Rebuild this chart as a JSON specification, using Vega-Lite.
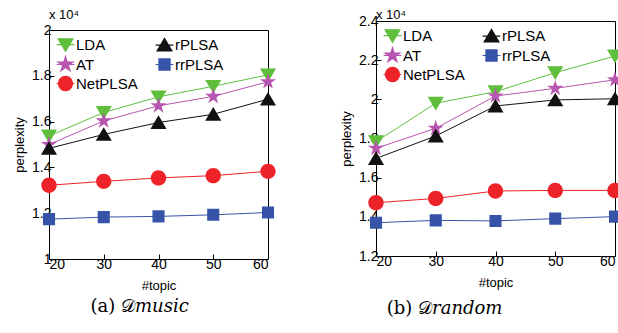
{
  "$schema": "https://vega.github.io/schema/vega-lite/v6.json",
  "padding": {"left": 13, "top": 8, "right": 0, "bottom": 0},
  "spacing": 61,
  "resolve": {"scale": {"color": "independent", "fill": "independent", "stroke": "independent", "shape": "independent"}, "legend": {"fill": "independent", "stroke": "independent", "shape": "independent"}},
  "data": {"values": [
    {"panel": "music", "method": "LDA", "topic": 20, "value": 15370},
    {"panel": "music", "method": "LDA", "topic": 30, "value": 16400},
    {"panel": "music", "method": "LDA", "topic": 40, "value": 17080},
    {"panel": "music", "method": "LDA", "topic": 50, "value": 17540},
    {"panel": "music", "method": "LDA", "topic": 60, "value": 18040},
    {"panel": "music", "method": "AT", "topic": 20, "value": 15000},
    {"panel": "music", "method": "AT", "topic": 30, "value": 16030},
    {"panel": "music", "method": "AT", "topic": 40, "value": 16690},
    {"panel": "music", "method": "AT", "topic": 50, "value": 17100},
    {"panel": "music", "method": "AT", "topic": 60, "value": 17740},
    {"panel": "music", "method": "NetPLSA", "topic": 20, "value": 13220},
    {"panel": "music", "method": "NetPLSA", "topic": 30, "value": 13390},
    {"panel": "music", "method": "NetPLSA", "topic": 40, "value": 13540},
    {"panel": "music", "method": "NetPLSA", "topic": 50, "value": 13640},
    {"panel": "music", "method": "NetPLSA", "topic": 60, "value": 13830},
    {"panel": "music", "method": "rPLSA", "topic": 20, "value": 14830},
    {"panel": "music", "method": "rPLSA", "topic": 30, "value": 15440},
    {"panel": "music", "method": "rPLSA", "topic": 40, "value": 15960},
    {"panel": "music", "method": "rPLSA", "topic": 50, "value": 16320},
    {"panel": "music", "method": "rPLSA", "topic": 60, "value": 16980},
    {"panel": "music", "method": "rrPLSA", "topic": 20, "value": 11740},
    {"panel": "music", "method": "rrPLSA", "topic": 30, "value": 11830},
    {"panel": "music", "method": "rrPLSA", "topic": 40, "value": 11860},
    {"panel": "music", "method": "rrPLSA", "topic": 50, "value": 11930},
    {"panel": "music", "method": "rrPLSA", "topic": 60, "value": 12030},
    {"panel": "random", "method": "LDA", "topic": 20, "value": 17840},
    {"panel": "random", "method": "LDA", "topic": 30, "value": 19800},
    {"panel": "random", "method": "LDA", "topic": 40, "value": 20390},
    {"panel": "random", "method": "LDA", "topic": 50, "value": 21360},
    {"panel": "random", "method": "LDA", "topic": 60, "value": 22210},
    {"panel": "random", "method": "AT", "topic": 20, "value": 17500},
    {"panel": "random", "method": "AT", "topic": 30, "value": 18520},
    {"panel": "random", "method": "AT", "topic": 40, "value": 20170},
    {"panel": "random", "method": "AT", "topic": 50, "value": 20560},
    {"panel": "random", "method": "AT", "topic": 60, "value": 21000},
    {"panel": "random", "method": "NetPLSA", "topic": 20, "value": 14720},
    {"panel": "random", "method": "NetPLSA", "topic": 30, "value": 14940},
    {"panel": "random", "method": "NetPLSA", "topic": 40, "value": 15320},
    {"panel": "random", "method": "NetPLSA", "topic": 50, "value": 15350},
    {"panel": "random", "method": "NetPLSA", "topic": 60, "value": 15350},
    {"panel": "random", "method": "rPLSA", "topic": 20, "value": 16980},
    {"panel": "random", "method": "rPLSA", "topic": 30, "value": 18130},
    {"panel": "random", "method": "rPLSA", "topic": 40, "value": 19660},
    {"panel": "random", "method": "rPLSA", "topic": 50, "value": 19970},
    {"panel": "random", "method": "rPLSA", "topic": 60, "value": 20030},
    {"panel": "random", "method": "rrPLSA", "topic": 20, "value": 13700},
    {"panel": "random", "method": "rrPLSA", "topic": 30, "value": 13820},
    {"panel": "random", "method": "rrPLSA", "topic": 40, "value": 13790},
    {"panel": "random", "method": "rrPLSA", "topic": 50, "value": 13910},
    {"panel": "random", "method": "rrPLSA", "topic": 60, "value": 14010}
  ]},
  "hconcat": [
    {
      "title": {"text": "(a) 𝒟𝑚𝑢𝑠𝑖𝑐", "orient": "bottom", "anchor": "middle", "font": "DejaVu Serif", "fontSize": 18, "fontWeight": "normal", "offset": 5, "dx": -6},
      "spacing": 0,
      "resolve": {"scale": {"color": "independent", "fill": "independent", "stroke": "independent", "shape": "independent"}, "legend": {"fill": "independent", "stroke": "independent", "shape": "independent"}},
      "vconcat": [
        {
          "data": {"values": []},
          "title": {"text": "x 10⁴", "anchor": "start", "frame": "group", "fontSize": 13, "fontWeight": "normal", "offset": -1},
          "width": 219,
          "height": 1,
          "view": {"stroke": null},
          "mark": {"type": "rule", "opacity": 0},
          "encoding": {}
        },
        {
          "width": 219,
          "height": 229,
          "transform": [{"filter": "datum.panel === 'music'"}],
          "encoding": {
            "x": {"field": "topic", "type": "quantitative", "scale": {"domain": [20, 60], "nice": false, "zero": false}, "axis": {"title": "#topic", "titlePadding": 8, "values": [20, 30, 40, 50, 60]}},
            "y": {"field": "value", "type": "quantitative", "scale": {"domain": [10000, 20000], "nice": false, "zero": false}, "axis": {"title": "perplexity", "values": [10000, 12000, 14000, 16000, 18000, 20000], "labelExpr": "format(datum.value/10000, '~g')"}}
          },
          "layer": [
            {"mark": {"type": "line", "strokeWidth": 1}, "encoding": {"color": {"field": "method", "type": "nominal", "scale": {"domain": ["rrPLSA", "rPLSA", "NetPLSA", "AT", "LDA"], "range": ["#3653a8", "#111111", "#ee2229", "#b755b0", "#5fbf3c"]}, "legend": null}}},
            {"mark": {"type": "point", "filled": true, "size": 260, "strokeWidth": 0, "opacity": 1},
             "encoding": {
               "fill": {"field": "method", "type": "nominal", "scale": {"domain": ["LDA", "AT", "NetPLSA", "rPLSA", "rrPLSA"], "range": ["#5fbf3c", "#b755b0", "#ee2229", "#111111", "#3653a8"]}, "legend": {"title": null, "symbolStrokeWidth": 1.2}},
               "stroke": {"field": "method", "type": "nominal", "scale": {"domain": ["LDA", "AT", "NetPLSA", "rPLSA", "rrPLSA"], "range": ["#5fbf3c", "#b755b0", "#ee2229", "#111111", "#3653a8"]}, "legend": {"title": null, "symbolStrokeWidth": 1.2}},
               "shape": {"field": "method", "type": "nominal", "scale": {"domain": ["LDA", "AT", "NetPLSA", "rPLSA", "rrPLSA"], "range": ["M-1,-0.8H1L0,0.9ZM-1.2,0H1.2", "M0,-1.05L0.236,-0.324L0.999,-0.324L0.381,0.124L0.617,0.849L0,0.401L-0.617,0.849L-0.381,0.124L-0.999,-0.324L-0.236,-0.324ZM-1.2,0H1.2", "M0.95,0A0.95,0.95,0,1,1,-0.95,0A0.95,0.95,0,1,1,0.95,0ZM-1.2,0H1.2", "M-1,0.8H1L0,-0.9ZM-1.2,0H1.2", "M-0.75,-0.75H0.75V0.75H-0.75ZM-1.2,0H1.2"]}, "legend": {"title": null, "symbolStrokeWidth": 1.2}}
             }}
          ]
        }
      ]
    },
    {
      "title": {"text": "(b) 𝒟𝑟𝑎𝑛𝑑𝑜𝑚", "orient": "bottom", "anchor": "middle", "font": "DejaVu Serif", "fontSize": 18, "fontWeight": "normal", "offset": 10, "dx": -38},
      "vconcat": [
        {
          "title": {"text": "x 10⁴", "anchor": "start", "frame": "group", "fontSize": 13, "fontWeight": "normal", "offset": -8},
          "width": 239,
          "height": 235,
          "transform": [{"filter": "datum.panel === 'random'"}],
          "encoding": {
            "x": {"field": "topic", "type": "quantitative", "scale": {"domain": [20, 60], "nice": false, "zero": false}, "axis": {"title": "#topic", "titlePadding": 8, "values": [20, 30, 40, 50, 60]}},
            "y": {"field": "value", "type": "quantitative", "scale": {"domain": [12000, 24000], "nice": false, "zero": false}, "axis": {"title": "perplexity", "values": [12000, 14000, 16000, 18000, 20000, 22000, 24000], "labelExpr": "format(datum.value/10000, '~g')"}}
          },
          "layer": [
            {"mark": {"type": "line", "strokeWidth": 1}, "encoding": {"color": {"field": "method", "type": "nominal", "scale": {"domain": ["rrPLSA", "rPLSA", "NetPLSA", "AT", "LDA"], "range": ["#3653a8", "#111111", "#ee2229", "#b755b0", "#5fbf3c"]}, "legend": null}}},
            {"mark": {"type": "point", "filled": true, "size": 260, "strokeWidth": 0, "opacity": 1},
             "encoding": {
               "fill": {"field": "method", "type": "nominal", "scale": {"domain": ["LDA", "AT", "NetPLSA", "rPLSA", "rrPLSA"], "range": ["#5fbf3c", "#b755b0", "#ee2229", "#111111", "#3653a8"]}, "legend": {"title": null, "symbolStrokeWidth": 1.2}},
               "stroke": {"field": "method", "type": "nominal", "scale": {"domain": ["LDA", "AT", "NetPLSA", "rPLSA", "rrPLSA"], "range": ["#5fbf3c", "#b755b0", "#ee2229", "#111111", "#3653a8"]}, "legend": {"title": null, "symbolStrokeWidth": 1.2}},
               "shape": {"field": "method", "type": "nominal", "scale": {"domain": ["LDA", "AT", "NetPLSA", "rPLSA", "rrPLSA"], "range": ["M-1,-0.8H1L0,0.9ZM-1.2,0H1.2", "M0,-1.05L0.236,-0.324L0.999,-0.324L0.381,0.124L0.617,0.849L0,0.401L-0.617,0.849L-0.381,0.124L-0.999,-0.324L-0.236,-0.324ZM-1.2,0H1.2", "M0.95,0A0.95,0.95,0,1,1,-0.95,0A0.95,0.95,0,1,1,0.95,0ZM-1.2,0H1.2", "M-1,0.8H1L0,-0.9ZM-1.2,0H1.2", "M-0.75,-0.75H0.75V0.75H-0.75ZM-1.2,0H1.2"]}, "legend": {"title": null, "symbolStrokeWidth": 1.2}}
             }}
          ]
        }
      ]
    }
  ],
  "config": {
    "font": "Liberation Sans",
    "view": {"stroke": "#000000", "strokeWidth": 1},
    "title": {"color": "#000000"},
    "axis": {
      "grid": false,
      "domain": false,
      "tickColor": "#000000",
      "tickSize": -5,
      "labelColor": "#000000",
      "labelFontSize": 14,
      "labelPadding": 3,
      "titleFontSize": 13,
      "titleFontWeight": "normal",
      "titleColor": "#000000",
      "titlePadding": 5
    },
    "legend": {
      "orient": "none",
      "legendX": 8,
      "legendY": 6,
      "columns": 2,
      "symbolSize": 220,
      "symbolStrokeWidth": 1.2,
      "symbolOpacity": 1,
      "labelFontSize": 15,
      "labelColor": "#000000",
      "labelOffset": 2,
      "rowPadding": 0,
      "columnPadding": 15,
      "padding": 0,
      "gridAlign": "each"
    }
  }
}
